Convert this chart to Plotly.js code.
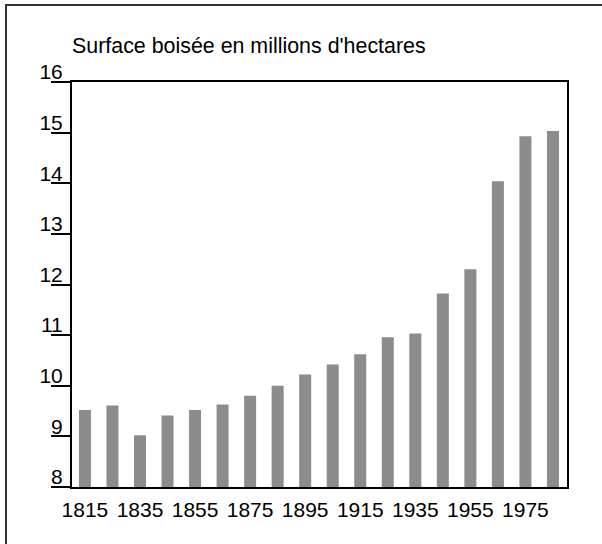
<!DOCTYPE html>
<html>
<head>
<meta charset="utf-8">
<script src="https://cdn.plot.ly/plotly-3.0.1.min.js"></script>
<style>
html,body{margin:0;padding:0;background:#fff;}
#chart{width:602px;height:544px;}
</style>
</head>
<body>
<div id="chart"></div>
<script>
const years = [1815,1825,1835,1845,1855,1865,1875,1885,1895,1905,1915,1925,1935,1945,1955,1965,1975,1985];
const surface = [9.52,9.61,9.02,9.41,9.52,9.63,9.80,10.00,10.22,10.42,10.62,10.96,11.03,11.82,12.30,14.04,14.93,15.03];
const xTickYears = [1815,1835,1855,1875,1895,1915,1935,1955,1975];
const xTickLabels = ["1815","1835","1855","1875","1895","1915","1935","1955","1975"];
const yTickValues = [8,9,10,11,12,13,14,15,16];
const yTickLabels = ["8","9","10","11","12","13","14","15","16"];
const titleText = "Surface boisée en millions d'hectares";

const font = "Arial, 'Liberation Sans', sans-serif";

const trace = {
  type: 'bar',
  x: years,
  y: surface,
  width: 4.36,
  marker: {color: '#8c8c8c', line: {width: 0}},
  hoverinfo: 'x+y'
};

const layout = {
  width: 602,
  height: 544,
  margin: {l: 72, r: 35, t: 82, b: 57, pad: 0},
  paper_bgcolor: '#ffffff',
  plot_bgcolor: '#ffffff',
  showlegend: false,
  font: {family: font, size: 21, color: '#000'},
  title: {
    text: titleText,
    font: {family: font, size: 21.4, color: '#000'},
    xref: 'paper', x: 0, xanchor: 'left',
    yref: 'container', y: 1 - 46/544, yanchor: 'middle'
  },
  xaxis: {
    range: [1810.3, 1990.1],
    tickmode: 'array',
    tickvals: xTickYears,
    ticktext: xTickLabels,
    ticks: '',
    showgrid: false,
    zeroline: false,
    showline: true,
    linecolor: '#000',
    linewidth: 2,
    mirror: true,
    tickfont: {family: font, size: 21, color: '#000'},
    ticklabelstandoff: 3
  },
  yaxis: {
    range: [8, 16],
    tickmode: 'array',
    tickvals: yTickValues,
    ticktext: yTickLabels,
    ticks: 'outside',
    ticklen: 19,
    tickwidth: 2,
    tickcolor: '#000',
    showgrid: false,
    zeroline: false,
    showline: true,
    linecolor: '#000',
    linewidth: 2,
    mirror: true,
    tickfont: {family: font, size: 21, color: '#000'},
    ticklabelstandoff: -16,
    ticklabelshift: -10
  },
  shapes: [{
    type: 'rect', xref: 'paper', yref: 'paper',
    x0: (6 - 72) / 495, x1: 1.3,
    y0: -0.3, y1: (487 - 5) / 405,
    line: {color: '#333', width: 2},
    fillcolor: 'rgba(0,0,0,0)',
    layer: 'below'
  }]
};

Plotly.newPlot('chart', [trace], layout, {displayModeBar: false, staticPlot: true});
</script>
</body>
</html>
